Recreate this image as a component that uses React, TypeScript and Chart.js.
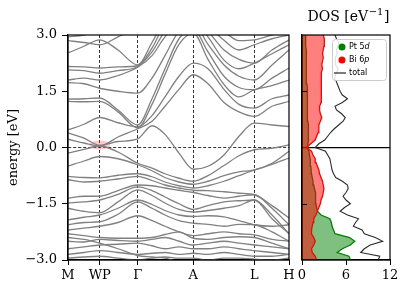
import React, { useEffect, useRef } from "react";
import { Chart, registerables } from "chart.js";

Chart.register(...registerables);

// ---------- band structure data ----------
const K_TICK_POS = [0, 0.317, 0.697, 1.253, 1.863, 2.21];
const K_TICK_LABELS = ["M", "WP", "Γ", "A", "L", "H"];
const K_SAMPLES = [0, 0.16, 0.317, 0.5, 0.697, 0.84, 0.97, 1.11, 1.253, 1.4, 1.56, 1.71, 1.863, 2.04, 2.21];

const BAND_C1 = [0.39, 0.25, 0.06, 0.16, 0.23, 0.58, 0.35, -0.15, -0.58, -0.5, -0.2, 0.3, 0.65, 0.6, 0.56];
const BAND_C2 = [0.22, 0.12, 0.04, 0.28, 0.5, 0.7, 1.1, 1.55, 1.94, 1.7, 1.2, 0.95, 0.83, 1.1, 1.23];
const BAND_C3 = [0.47, 0.62, 0.8, 0.66, 0.55, 0.85, 1.35, 1.9, 2.25, 2.1, 1.55, 1.15, 1.05, 1.3, 1.4];
const BAND_C4 = [1.23, 1.22, 1.23, 0.95, 0.52, 1.15, 1.95, 2.75, 3.05, 2.35, 1.68, 1.35, 1.54, 1.65, 1.8];
const BAND_C5 = [1.29, 1.3, 1.32, 1.0, 0.6, 1.3, 2.1, 2.9, 3.15, 2.55, 1.9, 1.6, 1.54, 1.85, 2.12];
const BAND_C6 = [1.73, 1.7, 1.58, 1.5, 1.45, 1.85, 2.45, 3.1, 3.3, 2.75, 2.2, 1.9, 1.8, 2.2, 2.6];
const BAND_C7 = [1.8, 1.85, 1.8, 1.92, 2.14, 2.45, 2.95, 3.3, 3.4, 2.95, 2.33, 2.1, 2.25, 2.5, 2.74];
const BAND_C8 = [2.07, 2.05, 1.98, 2.05, 2.16, 2.55, 3.1, 3.4, 3.5, 3.1, 2.6, 2.35, 2.25, 2.6, 2.87];
const BAND_C9 = [2.16, 2.15, 2.12, 2.15, 2.18, 2.65, 3.3, 3.5, 3.6, 3.25, 2.86, 2.6, 2.74, 2.9, 3.0];
const BAND_C10 = [2.52, 2.7, 2.87, 2.6, 2.2, 2.8, 3.4, 3.6, 3.7, 3.4, 3.1, 2.85, 2.87, 3.0, 3.1];
const BAND_C11 = [2.85, 2.8, 2.74, 2.95, 3.2, 3.5, 3.8, 4.0, 4.0, 3.8, 3.4, 3.1, 3.05, 3.1, 3.2];
const BAND_C12 = [2.95, 3.0, 3.1, 3.2, 3.3, 3.6, 3.9, 4.0, 4.0, 4.0, 3.6, 3.3, 3.2, 3.3, 3.3];

const BAND_V1 = [-0.15, -0.05, 0.04, -0.12, -0.42, -0.55, -0.7, -0.82, -0.9, -0.75, -0.48, -0.22, -0.06, -0.02, 0.07];
const BAND_V2 = [-0.5, -0.36, -0.24, -0.3, -0.46, -0.62, -0.8, -0.92, -0.98, -0.9, -0.75, -0.65, -0.6, -0.42, -0.1];
const BAND_V3 = [-0.77, -0.8, -0.81, -0.74, -0.7, -0.78, -0.92, -1.02, -1.08, -1.02, -0.9, -0.75, -0.6, -0.45, -0.28];
const BAND_V4 = [-0.86, -0.92, -0.9, -0.84, -0.77, -0.88, -1.0, -1.08, -1.14, -1.15, -1.18, -1.22, -1.26, -1.55, -1.88];
const BAND_V5 = [-1.35, -1.3, -1.3, -1.15, -1.0, -1.02, -1.08, -1.14, -1.2, -1.28, -1.35, -1.3, -1.26, -1.62, -2.06];
const BAND_V6 = [-1.48, -1.45, -1.4, -1.25, -1.05, -1.15, -1.32, -1.5, -1.65, -1.55, -1.45, -1.42, -1.4, -1.8, -2.3];
const BAND_V7 = [-1.62, -1.7, -1.74, -1.45, -1.13, -1.28, -1.48, -1.65, -1.72, -1.68, -1.62, -1.55, -1.4, -1.9, -2.3];
const BAND_V8 = [-1.93, -1.86, -1.8, -1.62, -1.4, -1.52, -1.68, -1.8, -1.84, -1.82, -1.85, -1.95, -2.06, -2.1, -2.06];
const BAND_V9 = [-2.06, -2.0, -1.98, -1.78, -1.45, -1.62, -1.8, -1.95, -2.02, -2.05, -2.1, -2.05, -2.06, -2.25, -2.5];
const BAND_V10 = [-2.2, -2.15, -2.1, -2.0, -1.82, -1.95, -2.1, -2.25, -2.35, -2.3, -2.25, -2.3, -2.33, -2.45, -2.5];
const BAND_V11 = [-2.3, -2.35, -2.4, -2.42, -2.42, -2.4, -2.32, -2.25, -2.42, -2.45, -2.4, -2.38, -2.4, -2.55, -2.7];
const BAND_V12 = [-2.5, -2.52, -2.45, -2.48, -2.5, -2.45, -2.4, -2.5, -2.6, -2.55, -2.5, -2.55, -2.6, -2.65, -2.7];
const BAND_V13 = [-2.7, -2.65, -2.6, -2.58, -2.55, -2.62, -2.7, -2.65, -2.7, -2.7, -2.65, -2.7, -2.75, -2.8, -2.85];
const BAND_V14 = [-2.85, -2.8, -2.75, -2.8, -2.85, -2.82, -2.8, -2.85, -2.82, -2.85, -2.8, -2.85, -2.9, -2.9, -2.85];
const BAND_V15 = [-2.95, -2.92, -2.9, -2.95, -3.0, -2.95, -2.92, -2.95, -2.95, -3.0, -2.95, -2.95, -2.98, -3.0, -2.95];
const BAND_V16 = [-2.4, -2.45, -2.55, -2.7, -2.88, -2.92, -2.95, -3.05, -3.1, -3.1, -3.05, -3.1, -3.1, -3.1, -3.1];

const BANDS = [
  BAND_C1, BAND_C2, BAND_C3, BAND_C4, BAND_C5, BAND_C6, BAND_C7, BAND_C8, BAND_C9, BAND_C10, BAND_C11, BAND_C12,
  BAND_V1, BAND_V2, BAND_V3, BAND_V4, BAND_V5, BAND_V6, BAND_V7, BAND_V8, BAND_V9, BAND_V10, BAND_V11, BAND_V12,
  BAND_V13, BAND_V14, BAND_V15, BAND_V16,
];

const WP_K = 0.317;
const WP_E = 0.04;

// ---------- DOS data ----------
const DOS_ENERGY = [
  -3.0, -2.9, -2.8, -2.7, -2.6, -2.5, -2.4, -2.3, -2.2, -2.1, -2.0, -1.9, -1.8, -1.7, -1.6, -1.5, -1.4, -1.3, -1.2, -1.1,
  -1.0, -0.9, -0.8, -0.7, -0.6, -0.5, -0.4, -0.3, -0.2, -0.1, 0.0, 0.1, 0.2, 0.3, 0.4, 0.5, 0.6, 0.7, 0.8, 0.9,
  1.0, 1.1, 1.2, 1.3, 1.4, 1.5, 1.6, 1.7, 1.8, 1.9, 2.0, 2.1, 2.2, 2.3, 2.4, 2.5, 2.6, 2.7, 2.8, 2.9, 3.0,
];
const DOS_TOTAL = [
  10.4, 10.6, 8.0, 8.5, 9.3, 11.0, 10.0, 8.5, 8.2, 7.0, 7.3, 7.7, 6.2, 5.2, 5.8, 6.6, 6.0, 5.6, 6.0, 6.3,
  6.2, 5.5, 4.6, 4.3, 4.1, 4.0, 3.9, 3.8, 3.5, 3.2, 1.8, 2.3, 3.1, 3.5, 3.9, 4.4, 5.0, 5.6, 5.9, 5.4,
  4.7, 4.5, 5.5, 6.2, 5.5, 5.2, 5.0, 4.8, 4.6, 4.5, 4.7, 4.9, 4.6, 4.5, 4.6, 4.8, 4.7, 4.9, 5.0, 4.7, 4.5,
];
const DOS_PT_5D = [
  6.6, 6.4, 4.8, 5.5, 6.6, 7.2, 6.5, 4.5, 4.3, 4.1, 4.0, 3.8, 2.6, 2.1, 2.0, 1.9, 1.9, 1.85, 1.8, 1.7,
  1.6, 1.5, 1.4, 1.3, 1.25, 1.2, 1.15, 1.1, 1.0, 0.95, 0.7, 0.8, 0.9, 0.9, 0.9, 0.85, 0.85, 0.8, 0.8, 0.8,
  0.75, 0.75, 0.75, 0.7, 0.7, 0.7, 0.7, 0.65, 0.65, 0.65, 0.6, 0.6, 0.6, 0.6, 0.55, 0.55, 0.55, 0.5, 0.5, 0.5, 0.5,
];
const DOS_BI_6P = [
  2.0, 1.8, 1.4, 1.3, 1.6, 1.8, 1.6, 1.3, 1.3, 1.4, 1.5, 1.6, 1.9, 2.1, 2.3, 2.5, 2.6, 2.8, 2.9, 3.0,
  2.9, 2.8, 2.6, 2.4, 2.3, 2.1, 1.9, 1.8, 1.5, 1.3, 0.6, 1.2, 1.8, 2.0, 2.2, 2.3, 2.3, 2.5, 2.7, 2.5,
  2.4, 2.4, 2.6, 2.7, 2.6, 2.7, 2.6, 2.6, 2.7, 2.6, 2.6, 2.8, 2.7, 2.8, 2.9, 2.8, 2.9, 3.0, 3.1, 3.0, 2.9,
];
const DOS_X_MAX = 12;
const DOS_X_STEP = 6;
const E_MIN = -3;
const E_MAX = 3;
const E_STEP = 1.5;
const DOS_INNER_TICKS = [-1.5, 1.5];

const SERIF = "'DejaVu Serif', serif";
const SANS = "'DejaVu Sans', sans-serif";

const fmtE = (v: number) => (v < 0 ? "\u2212" : "") + Math.abs(v).toFixed(1);

const framePlugin = {
  id: "frame",
  afterDraw(chart: any) {
    const { ctx, chartArea: a } = chart;
    ctx.save();
    ctx.strokeStyle = "#000";
    ctx.lineWidth = 1.2;
    ctx.strokeRect(a.left, a.top, a.right - a.left, a.bottom - a.top);
    ctx.restore();
  },
};

const ellipsePlugin = {
  id: "wpEllipse",
  beforeDatasetsDraw(chart: any) {
    const { ctx } = chart;
    const x = chart.scales.x.getPixelForValue(WP_K);
    const y = chart.scales.y.getPixelForValue(WP_E);
    ctx.save();
    ctx.fillStyle = "rgba(255,60,60,0.28)";
    ctx.beginPath();
    ctx.ellipse(x, y - 1, 10.5, 4.5, 0, 0, Math.PI * 2);
    ctx.fill();
    ctx.restore();
  },
};

const yTitlePlugin = {
  id: "yTitle",
  afterDraw(chart: any) {
    const { ctx, chartArea: a } = chart;
    ctx.save();
    ctx.translate(14, (a.top + a.bottom) / 2);
    ctx.rotate(-Math.PI / 2);
    ctx.font = `13px ${SERIF}`;
    ctx.fillStyle = "#000";
    ctx.textAlign = "center";
    ctx.textBaseline = "middle";
    ctx.fillText("energy [eV]", 0, 0);
    ctx.restore();
  },
};

const dosDecorPlugin = {
  id: "dosDecor",
  afterDraw(chart: any) {
    const { ctx, chartArea: a } = chart;
    ctx.save();
    // inward ticks
    ctx.strokeStyle = "#000";
    ctx.lineWidth = 1;
    DOS_INNER_TICKS.forEach((v) => {
      const y = Math.round(chart.scales.y.getPixelForValue(v)) + 0.5;
      ctx.beginPath();
      ctx.moveTo(a.left, y);
      ctx.lineTo(a.left + 5, y);
      ctx.stroke();
    });
    // title
    const cx = (a.left + a.right) / 2 + 2;
    ctx.fillStyle = "#000";
    ctx.textBaseline = "alphabetic";
    const t1 = "DOS [eV";
    const t3 = "]";
    ctx.font = `14px ${SERIF}`;
    const w1 = ctx.measureText(t1).width;
    const w3 = ctx.measureText(t3).width;
    ctx.font = `10px ${SERIF}`;
    const w2 = ctx.measureText("\u22121").width;
    const start = cx - (w1 + w2 + w3) / 2;
    ctx.font = `14px ${SERIF}`;
    ctx.textAlign = "left";
    ctx.fillText(t1, start, 21);
    ctx.font = `10px ${SERIF}`;
    ctx.fillText("\u22121", start + w1 + 0.5, 15);
    ctx.font = `14px ${SERIF}`;
    ctx.fillText(t3, start + w1 + w2 + 1, 21);

    // legend
    const bx = a.right - 58;
    const by = a.top + 4;
    const bw = 54;
    const bh = 41;
    ctx.fillStyle = "rgba(255,255,255,0.85)";
    ctx.strokeStyle = "#cccccc";
    ctx.lineWidth = 1;
    ctx.beginPath();
    (ctx as any).roundRect(bx + 0.5, by + 0.5, bw, bh, 3);
    ctx.fill();
    ctx.stroke();
    const rows = [
      { kind: "dot", color: "#008000", label: "Pt 5", it: "d" },
      { kind: "dot", color: "#ff0000", label: "Bi 6", it: "p" },
      { kind: "line", color: "#333333", label: "total", it: "" },
    ];
    rows.forEach((r, i) => {
      const ry = by + 8 + i * 13;
      if (r.kind === "dot") {
        ctx.fillStyle = r.color;
        ctx.beginPath();
        ctx.arc(bx + 10, ry, 3.5, 0, Math.PI * 2);
        ctx.fill();
      } else {
        ctx.strokeStyle = r.color;
        ctx.lineWidth = 1.3;
        ctx.beginPath();
        ctx.moveTo(bx + 2, ry);
        ctx.lineTo(bx + 14, ry);
        ctx.stroke();
      }
      ctx.fillStyle = "#000";
      ctx.textBaseline = "middle";
      ctx.font = `8px ${SANS}`;
      ctx.fillText(r.label, bx + 17, ry);
      if (r.it) {
        const w = ctx.measureText(r.label).width;
        ctx.font = `italic 8px ${SANS}`;
        ctx.fillText(r.it, bx + 17 + w, ry);
      }
    });
    ctx.restore();
  },
};

export default function App() {
  const bandRef = useRef<HTMLCanvasElement | null>(null);
  const dosRef = useRef<HTMLCanvasElement | null>(null);

  useEffect(() => {
    const bandChart = new Chart(bandRef.current as HTMLCanvasElement, {
      type: "line",
      data: {
        datasets: BANDS.map((b) => ({
          data: K_SAMPLES.map((k, i) => ({ x: k, y: b[i] })),
          borderColor: "#808080",
          borderWidth: 1.3,
          pointRadius: 0,
          cubicInterpolationMode: "monotone" as const,
          fill: false,
        })),
      },
      options: {
        animation: false,
        responsive: false,
        events: [],
        layout: { padding: { left: 0, right: 11, top: 35, bottom: 0 } },
        plugins: { legend: { display: false }, tooltip: { enabled: false } },
        scales: {
          x: {
            type: "linear",
            min: K_TICK_POS[0],
            max: K_TICK_POS[K_TICK_POS.length - 1],
            afterBuildTicks: (s: any) => {
              s.ticks = K_TICK_POS.map((v) => ({ value: v }));
            },
            afterFit: (s: any) => {
              s.height = 33;
              s.paddingLeft = 0;
              s.paddingRight = 0;
            },
            ticks: {
              autoSkip: false,
              maxRotation: 0,
              padding: 3,
              color: "#000",
              font: { family: SERIF, size: 13 },
              callback: (_v: any, i: number) => K_TICK_LABELS[i],
            },
            grid: {
              color: (c: any) => {
                const v = c.tick ? c.tick.value : null;
                return v !== null && v > K_TICK_POS[0] && v < K_TICK_POS[K_TICK_POS.length - 1] ? "#000" : "rgba(0,0,0,0)";
              },
              lineWidth: 0.8,
              tickColor: "#000",
              tickLength: 5,
              tickWidth: 1,
            },
            border: { color: "#000", width: 1.2, dash: [3, 2] },
          },
          y: {
            type: "linear",
            min: E_MIN,
            max: E_MAX,
            afterFit: (s: any) => {
              s.width = 68;
              s.paddingTop = 0;
              s.paddingBottom = 0;
            },
            ticks: {
              stepSize: E_STEP,
              padding: 5,
              color: "#000",
              font: { family: SERIF, size: 13 },
              callback: (v: any) => fmtE(Number(v)),
            },
            grid: {
              color: (c: any) => (c.tick && Math.abs(c.tick.value) < 1e-9 ? "#000" : "rgba(0,0,0,0)"),
              lineWidth: 0.8,
              tickColor: "#000",
              tickLength: 6,
              tickWidth: 1,
            },
            border: { color: "#000", width: 1.2, dash: [3, 2] },
          },
        },
      },
      plugins: [ellipsePlugin, framePlugin, yTitlePlugin],
    } as any);

    const mk = (vals: number[]) => DOS_ENERGY.map((e, i) => ({ x: vals[i], y: e }));
    const dosChart = new Chart(dosRef.current as HTMLCanvasElement, {
      type: "line",
      data: {
        datasets: [
          { label: "total", data: mk(DOS_TOTAL), borderColor: "#2b2b2b", borderWidth: 1.1, pointRadius: 0, fill: false },
          {
            label: "Bi 6p",
            data: mk(DOS_BI_6P),
            borderColor: "#ff0000",
            borderWidth: 1.3,
            backgroundColor: "rgba(255,0,0,0.5)",
            pointRadius: 0,
            fill: "origin",
          },
          {
            label: "Pt 5d",
            data: mk(DOS_PT_5D),
            borderColor: "#008000",
            borderWidth: 1.3,
            backgroundColor: "rgba(0,128,0,0.5)",
            pointRadius: 0,
            fill: "origin",
          },
        ],
      },
      options: {
        indexAxis: "y",
        animation: false,
        responsive: false,
        events: [],
        layout: { padding: { left: 0, right: 25, top: 35, bottom: 0 } },
        plugins: { legend: { display: false }, tooltip: { enabled: false } },
        scales: {
          x: {
            type: "linear",
            min: 0,
            max: DOS_X_MAX,
            afterFit: (s: any) => {
              s.height = 33;
              s.paddingLeft = 0;
              s.paddingRight = 0;
            },
            ticks: {
              stepSize: DOS_X_STEP,
              padding: 3,
              color: "#000",
              maxRotation: 0,
              font: { family: SERIF, size: 13 },
            },
            grid: { color: "rgba(0,0,0,0)", tickColor: "#000", tickLength: 5, tickWidth: 1 },
            border: { color: "#000", width: 1.2 },
          },
          y: {
            type: "linear",
            min: E_MIN,
            max: E_MAX,
            afterFit: (s: any) => {
              s.width = 12;
              s.paddingTop = 0;
              s.paddingBottom = 0;
            },
            ticks: { stepSize: E_STEP, display: false },
            grid: {
              color: (c: any) => (c.tick && Math.abs(c.tick.value) < 1e-9 ? "#000" : "rgba(0,0,0,0)"),
              lineWidth: 1.2,
              drawTicks: false,
            },
            border: { color: "#000", width: 1.2 },
          },
        },
      },
      plugins: [framePlugin, dosDecorPlugin],
    } as any);

    return () => {
      bandChart.destroy();
      dosChart.destroy();
    };
  }, []);

  return (
    <div style={{ position: "fixed", left: 0, top: 0, width: 415, height: 293, background: "#fff" }}>
      <canvas ref={bandRef} width={300} height={293} style={{ position: "absolute", left: 0, top: 0, width: 300, height: 293 }} />
      <canvas ref={dosRef} width={125} height={293} style={{ position: "absolute", left: 290, top: 0, width: 125, height: 293 }} />
    </div>
  );
}
